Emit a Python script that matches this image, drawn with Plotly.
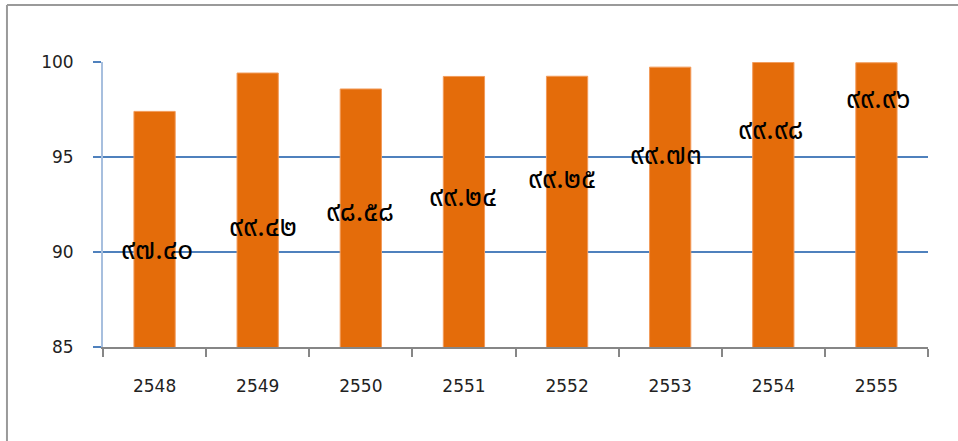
import plotly.graph_objects as go

# Yearly values (Buddhist-era years)
years = ["2548", "2549", "2550", "2551", "2552", "2553", "2554", "2555"]
values = [97.40, 99.42, 98.58, 99.24, 99.25, 99.73, 99.98, 99.96]
y_ticks = [85, 90, 95, 100]

# Vertical placement of each value label (axis units)
label_pos = [90.1, 91.3, 92.1, 92.85, 93.8, 95.1, 96.4, 98.05]
# Horizontal nudge of each value label (pixels)
label_dx = [2, 5, -1, -1, -5, -4, -3, 2]

THAI_DIGITS = str.maketrans("0123456789", "๐๑๒๓๔๕๖๗๘๙")


def thai_number(v):
    return f"{v:.2f}".translate(THAI_DIGITS)


fig = go.Figure()
fig.add_trace(go.Bar(
    x=years,
    y=values,
    marker=dict(color="#E46C0A", line=dict(color="#F29B5A", width=1)),
    width=0.4,
    hoverinfo="x+y",
))

for i, (v, pos, dx) in enumerate(zip(values, label_pos, label_dx)):
    fig.add_annotation(
        x=i, y=pos, text=thai_number(v), showarrow=False,
        xshift=dx,
        font=dict(family="Tahoma, 'Noto Sans Thai', 'Noto Sans', sans-serif",
                  size=28, color="#000000"),
    )

# outer frame (top and left edges)
frame = dict(color="#9A9A9A", width=2)
fig.add_shape(type="line", xref="paper", yref="paper",
              x0=-0.1164, x1=1.2, y0=1.2, y1=1.2, line=frame)
fig.add_shape(type="line", xref="paper", yref="paper",
              x0=-0.1164, x1=-0.1164, y0=1.2, y1=-0.5, line=frame)

fig.update_layout(
    width=958, height=441,
    margin=dict(l=103, r=30, t=62, b=94),
    paper_bgcolor="white", plot_bgcolor="white",
    showlegend=False,
    bargap=0.6,
    font=dict(family="Tahoma, 'DejaVu Sans', sans-serif", size=17, color="#222222"),
    xaxis=dict(
        type="category", range=[-0.5, 7.5],
        showline=True, linecolor="#868686", linewidth=2,
        ticks="outside", tickson="boundaries", ticklen=8, tickwidth=2, tickcolor="#868686",
        ticklabelstandoff=23, tickangle=0,
        showgrid=False,
    ),
    yaxis=dict(
        range=[85, 100], tickvals=y_ticks,
        showline=True, linecolor="#A7BFDE", linewidth=2,
        ticks="outside", ticklen=8, tickwidth=2, tickcolor="#4F81BD",
        ticklabelstandoff=16,
        gridcolor="#4F81BD", gridwidth=2,
        zeroline=False,
    ),
)

fig.write_html("out.html")
